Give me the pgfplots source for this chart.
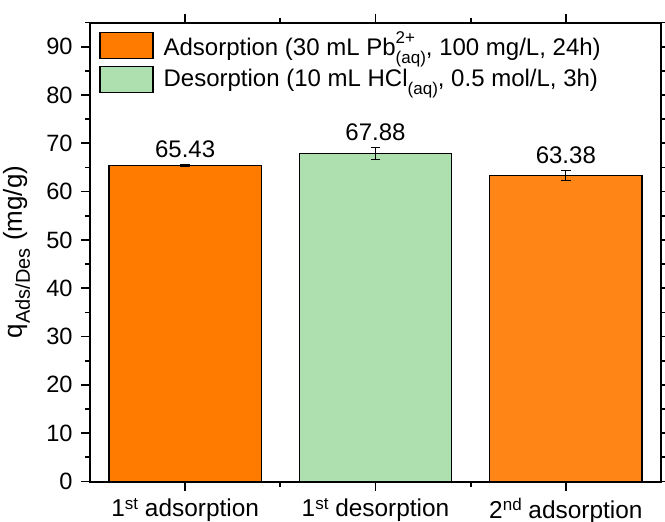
\documentclass[border=0pt]{standalone}
\usepackage{fontspec}
\setmainfont{Liberation Sans}
\usepackage{pgfplots}
\pgfplotsset{compat=1.18}
\definecolor{orangeA}{RGB}{255,123,0}
\definecolor{orangeB}{RGB}{255,134,22}
\definecolor{greenD}{RGB}{174,223,174}
\newcommand{\ssub}[1]{\raisebox{-0.32em}{\fontsize{8.5}{9}\selectfont #1}}
\newcommand{\ysub}[1]{\raisebox{-0.3em}{\fontsize{10}{11}\selectfont #1}}
\newcommand{\supsub}[2]{\rlap{\raisebox{0.5em}{\fontsize{8.5}{9}\selectfont #1}}\raisebox{-0.32em}{\fontsize{8.5}{9}\selectfont #2}}
\newcommand{\tsup}[1]{\raisebox{0.3em}{\fontsize{8.5}{9}\selectfont #1}}
\begin{document}
\fontsize{12}{14}\selectfont
\begin{tikzpicture}
\begin{axis}[
  width=285.5pt, height=229.5pt, scale only axis,
  xmin=-0.5, xmax=2.5, ymin=0, ymax=95,
  ybar, bar width=0.8,
  xtick={0,1,2},
  xticklabels={1\tsup{st} adsorption, 1\tsup{st} desorption, 2\tsup{nd} adsorption},
  minor xtick={0.5,1.5},
  ytick={0,10,...,90}, minor ytick={5,15,...,95},
  tick align=outside,
  major tick length=4.5pt, minor tick length=2.5pt,
  every tick/.style={black, line width=0.85pt},
  axis line style={line width=1pt},
  xticklabel style={font=\fontsize{12.2}{14}\selectfont, inner sep=3.8pt},
  yticklabel style={font=\fontsize{11.8}{14}\selectfont},
  /pgf/number format/assume math mode=true,
  ylabel={q\ysub{Ads/Des} (mg/g)},
  ylabel style={font=\fontsize{13}{15}\selectfont},
  legend style={at={(0,1)}, anchor=north west, xshift=3.5pt, yshift=-1.5pt,
    draw=none, fill=none, font=\fontsize{12}{14}\selectfont, row sep=1pt, inner sep=1pt,
    nodes={inner xsep=5pt}},
  legend cell align=left,
  legend image code/.code={\draw[#1, draw=black, line width=0.6pt] (0pt,-6.5pt) rectangle (26.5pt,6.5pt);},
  nodes near coords style={font=\fontsize{12}{14}\selectfont, black, inner sep=0pt, yshift=3pt},
]
\addplot[fill=orangeA, draw=black, line width=0.6pt, bar shift=0pt,
  error bars/.cd, y dir=both, y explicit,
  error bar style={black, line width=0.6pt},
  error mark options={rotate=90, mark size=2.4pt, black, line width=0.6pt}]
  coordinates {(0,65.43) +- (0,0.2)};
\addlegendentry{Adsorption (30 mL Pb\supsub{2+}{(aq)}, 100 mg/L, 24h)}
\addplot[fill=greenD, draw=black, line width=0.6pt, bar shift=0pt,
  error bars/.cd, y dir=both, y explicit,
  error bar style={black, line width=0.6pt},
  error mark options={rotate=90, mark size=2.4pt, black, line width=0.6pt}]
  coordinates {(1,67.88) +- (0,1.25)};
\addlegendentry{Desorption (10 mL HCl\ssub{(aq)}, 0.5 mol/L, 3h)}
\addplot[forget plot, fill=orangeB, draw=black, line width=0.6pt, bar shift=0pt,
  error bars/.cd, y dir=both, y explicit,
  error bar style={black, line width=0.6pt},
  error mark options={rotate=90, mark size=2.4pt, black, line width=0.6pt}]
  coordinates {(2,63.38) +- (0,1.0)};
\addplot[forget plot, draw=none, fill=none, bar shift=0pt, bar width=0,
  point meta=explicit symbolic,
  nodes near coords, nodes near coords align={above}]
  coordinates {(0,65.63) [65.43] (1,69.13) [67.88] (2,64.38) [63.38]};
\end{axis}
\pgfresetboundingbox
\path[use as bounding box] ([shift={(-45pt,-19.75pt)}]current axis.south west)
  rectangle ([shift={(2pt,11.25pt)}]current axis.north east);
\end{tikzpicture}
\end{document}
